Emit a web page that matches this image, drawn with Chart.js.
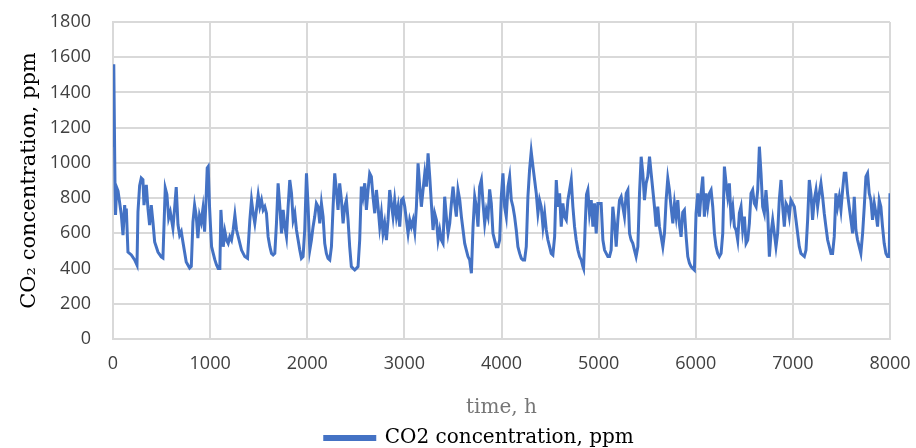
<!DOCTYPE html>
<html>
<head>
<meta charset="utf-8">
<script src="https://cdn.jsdelivr.net/npm/chart.js@4.4.1/dist/chart.umd.min.js"></script>
<style>
  html, body { margin: 0; padding: 0; background: #fff; }
  #wrap { width: 916px; height: 448px; }
</style>
</head>
<body>
<div id="wrap"><canvas id="co2Chart" width="916" height="448"></canvas></div>
<script>
// hours
const hours = [
  0, 8, 20, 26, 38, 52, 86, 103, 120, 130, 137, 154, 189, 223, 247, 257, 274, 291, 308, 319,
  343, 360, 377, 394, 411, 429, 463, 497, 514, 538, 555, 573, 590, 617, 634, 651, 669, 686, 703, 720,
  737, 754, 789, 806, 823, 840, 857, 874, 891, 908, 926, 943, 960, 970,
  980, 994, 1004, 1015, 1032, 1049, 1066, 1083, 1100, 1111, 1124, 1135, 1152, 1169, 1186, 1203, 1220, 1237, 1255, 1272,
  1289, 1323, 1357, 1385, 1409, 1426, 1443, 1460, 1477, 1495, 1512, 1529, 1546, 1563, 1580, 1597, 1615, 1632, 1649, 1666,
  1683, 1700, 1718, 1735, 1752, 1769, 1786, 1803, 1820, 1838, 1855, 1872, 1889, 1906, 1923, 1940,
  1957, 1974, 1992, 2009, 2026, 2043, 2060, 2077, 2094, 2112, 2129, 2146, 2163, 2180, 2197, 2214, 2232, 2249, 2266, 2283,
  2300, 2317, 2334, 2352, 2369, 2386, 2403, 2420, 2437, 2454, 2472, 2489, 2506, 2523, 2540, 2557, 2574, 2592, 2609, 2626,
  2643, 2660, 2677, 2695, 2712, 2729, 2746, 2763, 2780, 2797, 2815, 2832, 2849, 2866, 2883, 2900,
  2918, 2935, 2952, 2970, 2987, 3004, 3021, 3038, 3055, 3072, 3090, 3107, 3124, 3141, 3158, 3175, 3192, 3210, 3227, 3244,
  3261, 3278, 3295, 3312, 3330, 3347, 3364, 3381, 3398, 3415, 3432, 3450, 3467, 3484, 3501, 3518, 3535, 3552, 3570, 3587,
  3604, 3621, 3638, 3655, 3672, 3690, 3707, 3724, 3741, 3758, 3775, 3793, 3810, 3827, 3844, 3861, 3878, 3895, 3912, 3929,
  3946, 3964, 3981, 3998, 4015, 4032, 4049, 4067, 4084, 4101, 4118, 4135, 4152, 4169, 4187, 4204, 4221, 4238, 4255, 4272,
  4289, 4306, 4324, 4341, 4358, 4375, 4392, 4409, 4427, 4444, 4461, 4478, 4495, 4512, 4529, 4547, 4564, 4581, 4598, 4615,
  4632, 4649, 4667, 4684, 4701, 4718, 4735, 4752, 4769, 4787, 4804, 4821, 4838, 4845, 4862, 4875, 4889,
  4906, 4924, 4941, 4958, 4975, 4992, 5009, 5026, 5044, 5061, 5078, 5095, 5112, 5129, 5146, 5164, 5181, 5198, 5215, 5232,
  5249, 5266, 5284, 5301, 5318, 5335, 5352, 5369, 5386, 5404, 5421, 5438, 5455, 5472, 5489, 5506, 5524, 5541, 5558, 5575,
  5592, 5609, 5626, 5644, 5661, 5678, 5695, 5712, 5729, 5746, 5764, 5781, 5798, 5815, 5832, 5849, 5866, 5883,
  5901, 5918, 5935, 5952, 5969, 5986, 6003, 6021, 6038, 6055, 6072, 6089, 6106, 6123, 6141, 6158, 6175, 6192, 6209, 6226,
  6243, 6261, 6278, 6295, 6312, 6329, 6346, 6363, 6381, 6398, 6415, 6432, 6449, 6466, 6483, 6501, 6518, 6535, 6552, 6569,
  6586, 6603, 6621, 6638, 6655, 6672, 6689, 6706, 6723, 6741, 6758, 6775, 6792, 6809,
  6826, 6843, 6860, 6878, 6895, 6912, 6929, 6946, 6963, 6980, 6998, 7015, 7032, 7049, 7066, 7083, 7100, 7118, 7135, 7152,
  7169, 7186, 7203, 7220, 7238, 7255, 7272, 7289, 7306, 7323, 7340, 7358, 7375, 7392, 7409, 7426, 7443, 7460, 7478, 7495,
  7512, 7529, 7546, 7563, 7580, 7598, 7615, 7632, 7649, 7666, 7683, 7700, 7718, 7735, 7752, 7769, 7786, 7803, 7820, 7838,
  7855, 7872, 7889, 7906, 7923, 7940, 7958, 7975, 7992, 8000
];

// CO2 concentration, ppm
const co2 = [
  1100, 1560, 900, 704, 860, 840, 704, 590, 760, 680, 740, 494, 477, 449, 420, 721, 870, 914, 905, 760,
  875, 740, 647, 760, 666, 551, 494, 466, 460, 857, 820, 687, 721, 630, 740, 863, 650, 590, 610, 551,
  494, 437, 403, 412, 664, 760, 700, 573, 700, 664, 740, 610, 818, 971,
  979, 751, 638, 524, 486, 449, 420, 401, 401, 733, 619, 524, 610, 562, 543, 581, 562, 619, 704, 619,
  581, 505, 468, 458, 676, 789, 714, 657, 733, 818, 751, 789, 733, 751, 714, 581, 524, 486, 477, 486,
  657, 884, 751, 600, 733, 638, 581, 751, 903, 827, 676, 714, 619, 562, 505, 458,
  468, 619, 941, 751, 505, 562, 638, 695, 770, 751, 657, 770, 695, 543, 486, 458, 449, 524, 751, 941,
  846, 733, 884, 789, 657, 751, 789, 676, 524, 411, 401, 392, 401, 411, 562, 865, 808, 884, 733, 846,
  941, 922, 808, 714, 846, 751, 638, 714, 600, 657, 562, 676, 846, 770, 695, 789,
  695, 751, 638, 789, 799, 751, 676, 600, 676, 638, 676, 610, 751, 998, 865, 751, 846, 941, 865, 1054,
  922, 770, 619, 714, 676, 562, 619, 562, 543, 808, 695, 600, 657, 770, 865, 770, 695, 846, 789, 695,
  619, 543, 505, 468, 449, 373, 638, 808, 751, 638, 865, 903, 770, 657, 733, 695, 850, 770, 600, 562,
  524, 524, 562, 808, 941, 751, 695, 865, 922, 789, 751, 695, 619, 524, 486, 458, 449, 449, 524, 808,
  960, 1064, 979, 903, 827, 714, 789, 751, 638, 714, 619, 562, 524, 486, 477, 581, 903, 751, 827, 638,
  770, 695, 676, 789, 846, 903, 751, 638, 562, 505, 468, 449, 411, 400, 650, 820, 846,
  714, 789, 638, 770, 600, 770, 770, 770, 562, 505, 486, 468, 468, 505, 751, 657, 524, 676, 789, 808,
  751, 695, 827, 846, 600, 562, 543, 505, 468, 524, 827, 1035, 941, 789, 884, 922, 1035, 941, 846, 751,
  638, 751, 638, 581, 524, 600, 789, 912, 846, 751, 657, 770, 695, 789, 650, 580, 720, 733,
  581, 468, 430, 411, 401, 392, 714, 827, 695, 827, 922, 695, 827, 751, 827, 846, 751, 600, 524, 486,
  468, 486, 600, 979, 884, 808, 884, 695, 751, 638, 619, 562, 714, 751, 619, 695, 543, 562, 657, 827,
  846, 770, 751, 846, 1092, 941, 751, 714, 846, 714, 468, 600, 676, 600,
  524, 600, 789, 903, 751, 638, 770, 751, 695, 789, 770, 751, 676, 600, 524, 486, 477, 468, 505, 676,
  903, 827, 676, 789, 846, 751, 827, 884, 808, 714, 638, 562, 524, 486, 486, 581, 827, 751, 808, 733,
  846, 941, 941, 827, 751, 676, 600, 808, 619, 562, 524, 486, 600, 751, 922, 941, 827, 789, 676, 770,
  714, 638, 789, 751, 638, 543, 486, 468, 468, 827
];

const xTicks = { min: 0, max: 8000, step: 1000 };
const yTicks = { min: 0, max: 1800, step: 200 };

const seriesLabel = "CO2 concentration, ppm";
const xTitle = "time, h";
const yTitle = "CO\u2082 concentration, ppm";

const lineColor = "#4472C4";
const gridColor = "#d9d9d9";

const points = hours.map((h, i) => ({ x: h, y: co2[i] }));

// plain numbers, no thousands separator
const plain = (v) => String(v);

const chart = new Chart(document.getElementById("co2Chart"), {
  type: "line",
  data: {
    datasets: [
      {
        label: seriesLabel,
        data: points,
        borderColor: lineColor,
        backgroundColor: lineColor,
        borderWidth: 3,
        pointRadius: 0,
        tension: 0,
        fill: false,
      },
    ],
  },
  options: {
    responsive: false,
    animation: false,
    layout: { padding: { left: 0, right: 26, top: 22, bottom: -10 } },
    plugins: {
      tooltip: { enabled: false },
      legend: {
        position: "bottom",
        fullSize: false,
        labels: {
          boxWidth: 50,
          boxHeight: 3,
          padding: 0,
          color: "#000",
          font: { family: "DejaVu Serif", size: 20 },
          // trailing blanks nudge the centred entry a bit to the left, like the original
          generateLabels: (c) =>
            Chart.defaults.plugins.legend.labels.generateLabels(c).map((item) => {
              item.text = item.text + "\u00a0\u00a0\u00a0\u00a0\u00a0\u00a0\u00a0";
              return item;
            }),
        },
      },
    },
    scales: {
      x: {
        type: "linear",
        min: xTicks.min,
        max: xTicks.max,
        // let the layout padding alone decide the plot edges, fixed box height
        afterFit: (scale) => {
          scale.paddingLeft = 0;
          scale.paddingRight = 0;
          scale.height = 89;
        },
        grid: { color: gridColor, lineWidth: 2, drawTicks: false },
        border: { color: gridColor, width: 2 },
        ticks: {
          stepSize: xTicks.step,
          padding: 14,
          color: "#404040",
          callback: plain,
          font: { family: "Open Sans", size: 18 },
        },
        title: {
          display: true,
          text: xTitle,
          color: "#767676",
          padding: { top: 0, bottom: 8 },
          font: { family: "DejaVu Serif", size: 20 },
        },
      },
      y: {
        min: yTicks.min,
        max: yTicks.max,
        afterFit: (scale) => {
          scale.width = 113;
          scale.paddingTop = 0;
          scale.paddingBottom = 0;
        },
        grid: { color: gridColor, lineWidth: 2, drawTicks: false },
        border: { color: gridColor, width: 2 },
        ticks: {
          stepSize: yTicks.step,
          padding: 22,
          color: "#404040",
          callback: plain,
          font: { family: "Open Sans", size: 18 },
        },
        title: {
          display: true,
          text: yTitle,
          color: "#000",
          padding: { top: 17, bottom: 0 },
          font: { family: "DejaVu Serif", size: 21 },
        },
      },
    },
  },
});
</script>
</body>
</html>
